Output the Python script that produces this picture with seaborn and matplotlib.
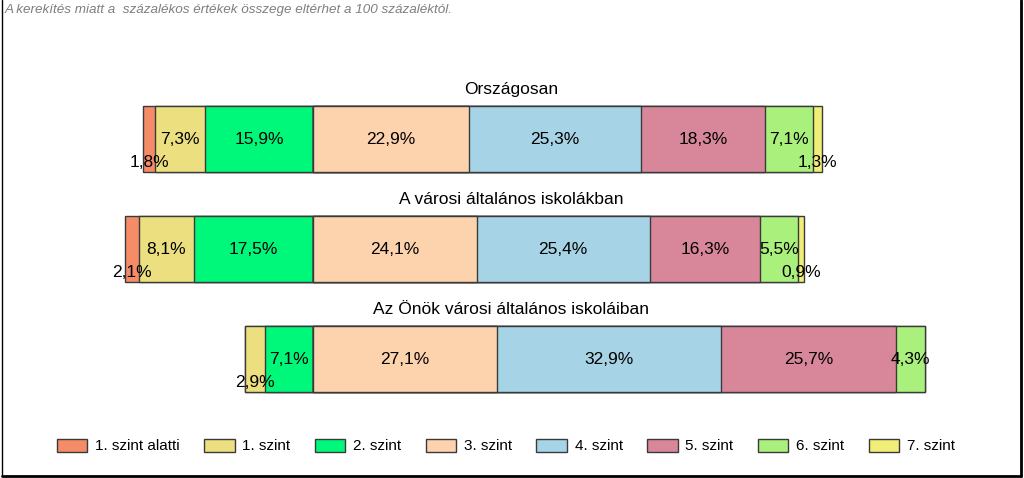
import pandas as pd
import seaborn as sns
import matplotlib.pyplot as plt
from matplotlib.patches import Patch
from matplotlib.lines import Line2D

# data
groups = ["Országosan", "A városi általános iskolákban", "Az Önök városi általános iskoláiban"]
levels = ["1. szint alatti", "1. szint", "2. szint", "3. szint",
          "4. szint", "5. szint", "6. szint", "7. szint"]
orszagos = [1.8, 7.3, 15.9, 22.9, 25.3, 18.3, 7.1, 1.3]
varosi = [2.1, 8.1, 17.5, 24.1, 25.4, 16.3, 5.5, 0.9]
onok = [0.0, 2.9, 7.1, 27.1, 32.9, 25.7, 4.3, 0.0]
colors = ["#F58C68", "#EBDF80", "#00F87A", "#FDD3AD",
          "#A6D3E5", "#D8869A", "#A9F07C", "#F1EE78"]

sns.set_style("white")
plt.rcParams["font.family"] = ["Liberation Sans", "DejaVu Sans"]
plt.rcParams["text.color"] = "black"

values = [orszagos, varosi, onok]
df = pd.DataFrame(values, columns=levels)
df["group"] = groups

fig = plt.figure(figsize=(10.24, 4.78), dpi=100)
ax = fig.add_axes([0, 0, 1, 1])

# levels 1. szint alatti .. 2. szint go left of zero, 3. szint .. 7. szint right
left_idx = [0, 1, 2]
right_idx = [3, 4, 5, 6, 7]

layers = []
for i in left_idx:
    end = -df[levels[i:3]].sum(axis=1)
    layers.append((i, end))
for i in reversed(right_idx):
    end = df[levels[3:i + 1]].sum(axis=1)
    layers.append((i, end))

for i, end in layers:
    d = pd.DataFrame({"group": groups, "end": end})
    sns.barplot(data=d, x="end", y="group", order=groups, orient="h",
                color=colors[i], saturation=1, width=0.6, errorbar=None,
                edgecolor="#3a3a3a", linewidth=1, ax=ax)

# value labels
for g, row in enumerate(values):
    for i, v in enumerate(row):
        if v == 0:
            continue
        if i < 3:
            start = -sum(row[i:3])
        else:
            start = sum(row[3:i])
        xc = start + v / 2
        yc = g + (0.21 if v < 3.5 else 0)
        ax.text(xc, yc, f"{v:.1f}%".replace(".", ","), ha="center",
                va="center", fontsize=12.5, color="black")
    ax.text(198 / 6.8, g - 0.45, groups[g],
            ha="center", va="center", fontsize=12.5, color="black")

px = 6.8
ax.set_xlim(-313 / px, (1024 - 313) / px)
ax.set_ylim((478 - 139) / 110, -139 / 110)
ax.axis("off")

handles = [Patch(facecolor=c, edgecolor="#3a3a3a", linewidth=1) for c in colors]
fig.legend(handles, levels, loc="center", bbox_to_anchor=(0.494, 1 - 446 / 478),
           ncol=8, frameon=False, fontsize=11, handlelength=2.0,
           handleheight=0.95, handletextpad=0.5, columnspacing=1.6)

fig.text(5 / 1024, 1 - 10 / 478, "A kerekítés miatt a  százalékos értékek összege eltérhet a 100 százaléktól.",
         ha="left", va="center", fontsize=9.7, style="italic", color="#7f7f7f")

# frame of the picture: thin left edge, heavier right and bottom edges
fig.lines.append(Line2D([1.5 / 1024, 1.5 / 1024], [1 - 476 / 478, 1],
                        transform=fig.transFigure, color="black", linewidth=1))
fig.lines.append(Line2D([1020.5 / 1024, 1020.5 / 1024], [1 - 476 / 478, 1],
                        transform=fig.transFigure, color="black", linewidth=2))
fig.lines.append(Line2D([1.5 / 1024, 1021 / 1024], [1 - 475.5 / 478, 1 - 475.5 / 478],
                        transform=fig.transFigure, color="black", linewidth=2))

fig.savefig("out.png", dpi=100)
